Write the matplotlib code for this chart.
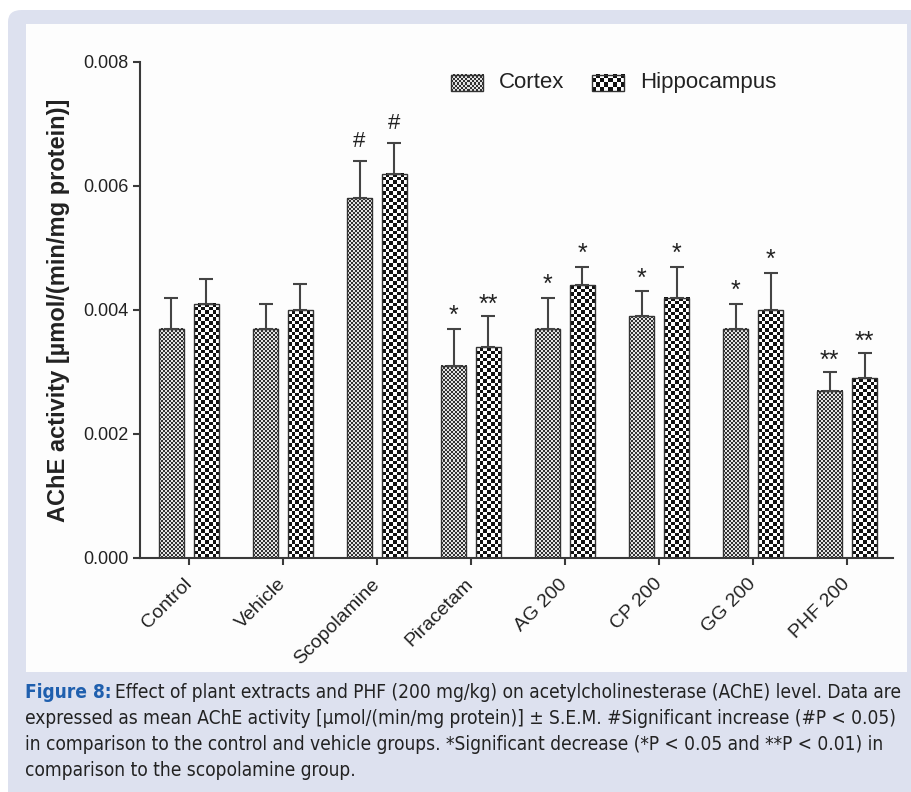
import matplotlib
matplotlib.use('Agg')
import matplotlib.pyplot as plt
from matplotlib.patches import FancyBboxPatch, Rectangle
import numpy as np

# data
groups = ["Control", "Vehicle", "Scopolamine", "Piracetam", "AG 200", "CP 200", "GG 200", "PHF 200"]
cortex_mean = [0.0037, 0.0037, 0.0058, 0.0031, 0.0037, 0.0039, 0.0037, 0.0027]
cortex_sem = [0.0005, 0.0004, 0.0006, 0.0006, 0.0005, 0.0004, 0.0004, 0.0003]
hippo_mean = [0.0041, 0.0040, 0.0062, 0.0034, 0.0044, 0.0042, 0.0040, 0.0029]
hippo_sem = [0.0004, 0.00042, 0.0005, 0.0005, 0.0003, 0.0005, 0.0006, 0.0004]
cortex_sig = ["", "", "#", "*", "*", "*", "*", "**"]
hippo_sig = ["", "", "#", "**", "*", "*", "*", "**"]
yticks = [0.000, 0.002, 0.004, 0.006, 0.008]

caption_lines = [
    "Effect of plant extracts and PHF (200 mg/kg) on acetylcholinesterase (AChE) level. Data are",
    "expressed as mean AChE activity [\u00b5mol/(min/mg protein)] \u00b1 S.E.M. #Significant increase (#P < 0.05)",
    "in comparison to the control and vehicle groups. *Significant decrease (*P < 0.05 and **P < 0.01) in",
    "comparison to the scopolamine group.",
]

plt.rcParams['font.family'] = ['Liberation Sans', 'DejaVu Sans']
W, H = 912, 792
fig = plt.figure(figsize=(W / 100, H / 100), dpi=100)
fig.patch.set_facecolor('white')

# lavender frame + white panel (behind the axes)
fig.patches.append(FancyBboxPatch((8 / W, -0.05), 1.2, (H - 10) / H + 0.05, transform=fig.transFigure,
                                  boxstyle="round,pad=0,rounding_size=0.015", fc='#dde1ef', ec='none', zorder=-2))
fig.patches.append(Rectangle((26 / W, (H - 672) / H), (907 - 26) / W, (672 - 24) / H,
                             transform=fig.transFigure, fc='#fdfdfd', ec='none', zorder=-1))

ax = fig.add_axes([140 / W, (H - 558) / H, 753 / W, 496 / H])
ax.set_facecolor('none')
ax.set_xlim(-0.521, 7.489)
ax.set_ylim(0, 0.008)

x = np.arange(len(groups))
bw = 0.266
off = 0.186

def checker(nr, nc, c1, c2):
    c1 = np.array(matplotlib.colors.to_rgb(c1))
    c2 = np.array(matplotlib.colors.to_rgb(c2))
    m = (np.add.outer(np.arange(nr), np.arange(nc)) % 2)[..., None]
    return m * c1 + (1 - m) * c2

def fill_bars(bars, cell, c1, c2):
    for b in bars:
        x0, y0 = b.get_x(), b.get_y()
        x1, y1 = x0 + b.get_width(), y0 + b.get_height()
        p0 = ax.transData.transform((x0, y0))
        p1 = ax.transData.transform((x1, y1))
        nc = max(1, int(round((p1[0] - p0[0]) / cell)))
        nr = max(1, int(round((p1[1] - p0[1]) / cell)))
        ax.imshow(checker(nr, nc, c1, c2), extent=(x0, x1, y0, y1), origin='lower',
                  aspect='auto', interpolation='nearest', zorder=1)

b1 = ax.bar(x - off, cortex_mean, bw, fc='none', ec='#333333', lw=1.0, zorder=2)
b2 = ax.bar(x + off, hippo_mean, bw, fc='none', ec='#333333', lw=1.0, zorder=2)
fill_bars(b1, 2, '#333333', '#e4e4e4')
fill_bars(b2, 3.6, '#111111', '#ffffff')

ax.errorbar(x - off, cortex_mean, yerr=[np.zeros(len(x)), cortex_sem], fmt='none',
            ecolor='#444444', elinewidth=1.5, capsize=5, capthick=1.5, zorder=3)
ax.errorbar(x + off, hippo_mean, yerr=[np.zeros(len(x)), hippo_sem], fmt='none',
            ecolor='#444444', elinewidth=1.5, capsize=5, capthick=1.5, zorder=3)

sig_off = {'#': 10, '*': 4, '**': 3}
sig_size = {'#': 16, '*': 18, '**': 18}
for xs, m, s, sig in [(x - off, cortex_mean, cortex_sem, cortex_sig), (x + off, hippo_mean, hippo_sem, hippo_sig)]:
    for xi, mi, si, t in zip(xs, m, s, sig):
        if t:
            ax.annotate(t, (xi, mi + si), xytext=(0, sig_off[t]), textcoords='offset points',
                        ha='center', va='baseline', fontsize=sig_size[t], color='#222222')

# legend drawn by hand so the checker fill shows
for lx, cell, c1, c2, lab in [(0.413, 2, '#333333', '#e4e4e4', 'Cortex'),
                               (0.600, 3.6, '#111111', '#ffffff', 'Hippocampus')]:
    ax.imshow(checker(4, 8, c1, c2) if cell > 3 else checker(8, 16, c1, c2),
              extent=(lx, lx + 0.0425, 0.9415, 0.974), transform=ax.transAxes,
              aspect='auto', interpolation='nearest', clip_on=False, zorder=2)
    ax.add_patch(Rectangle((lx, 0.9415), 0.0425, 0.0325, transform=ax.transAxes,
                           fc='none', ec='#333333', lw=1.0, clip_on=False, zorder=3))
    ax.text(lx + 0.064, 0.958, lab, transform=ax.transAxes, ha='left', va='center',
            fontsize=16, color='#222222')

ax.set_xlim(-0.521, 7.489)
ax.set_ylim(0, 0.008)

for sp in ['top', 'right']:
    ax.spines[sp].set_visible(False)
for sp in ['left', 'bottom']:
    ax.spines[sp].set_color('#3a3a3a')
    ax.spines[sp].set_linewidth(1.5)

ax.set_yticks(yticks)
ax.set_yticklabels(["%.3f" % v for v in yticks])
ax.set_xticks(x)
ax.set_xticklabels(groups, rotation=45, ha='right', va='center', rotation_mode='anchor')
ax.tick_params(axis='both', direction='out', length=5, width=1.5, color='#3a3a3a',
               labelsize=13, labelcolor='#222222')
ax.tick_params(axis='x', labelsize=14, pad=12)
ax.set_ylabel("AChE activity [\u00b5mol/(min/mg protein)]", fontsize=17, fontweight='bold',
              color='#222222', labelpad=9)

# caption, shrunk so the longest line ends at the right edge
cap_kw = dict(family='DejaVu Sans', fontstretch='condensed', va='center', ha='left')
cap_size = 14
texts = []
for i, line in enumerate(caption_lines):
    yy = 1 - (692 + 26.3 * i) / H
    if i == 0:
        head = fig.text(25 / W, yy, "Figure 8:", fontsize=cap_size, fontweight='bold',
                        color='#1f5fae', **cap_kw)
        texts.append(fig.text(0, yy, line, fontsize=cap_size, color='#222222', **cap_kw))
    else:
        texts.append(fig.text(25 / W, yy, line, fontsize=cap_size, color='#222222', **cap_kw))

def place_caption():
    fig.canvas.draw()
    texts[0].set_x((head.get_window_extent().x1 + 4) / W)
    fig.canvas.draw()
    return max(t.get_window_extent().x1 for t in texts)

right = place_caption()
scale = (W - 6 - 25) / (right - 25)
for t in texts + [head]:
    t.set_fontsize(cap_size * scale)
place_caption()

fig.savefig('out.png', dpi=100)
